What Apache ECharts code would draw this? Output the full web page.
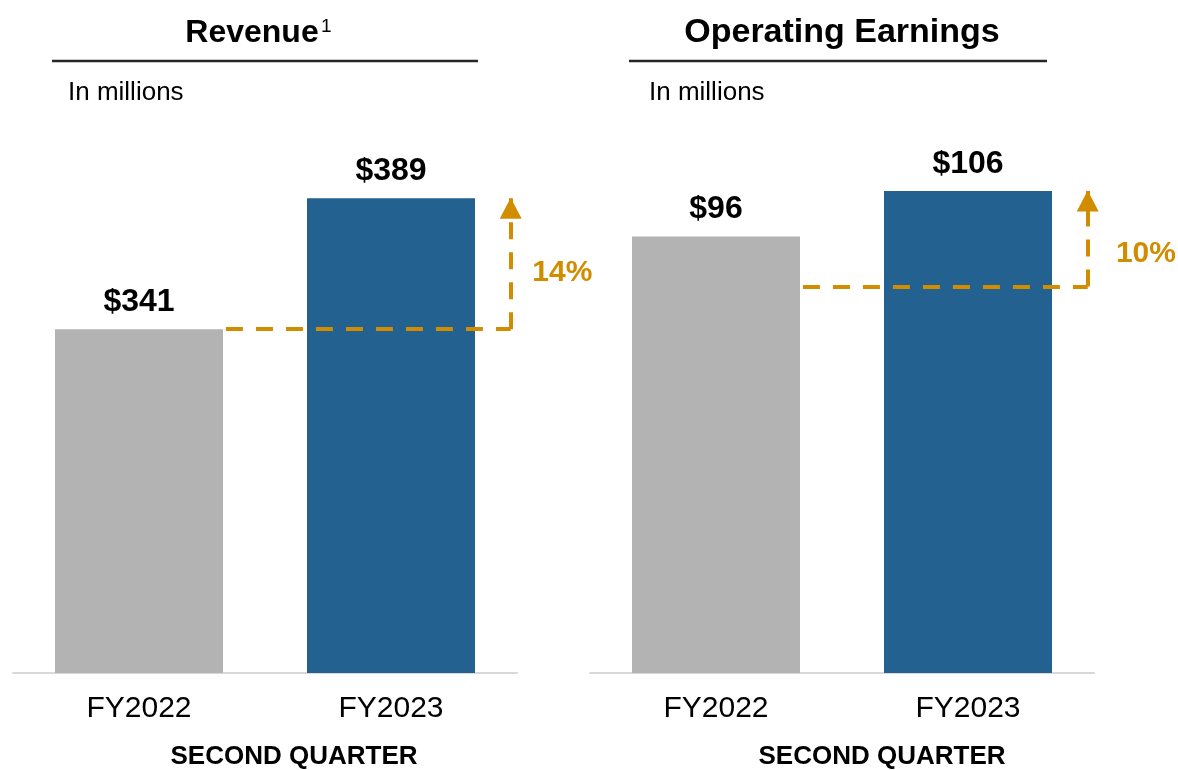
<!DOCTYPE html>
<html><head><meta charset="utf-8">
<script src="https://cdn.jsdelivr.net/npm/echarts@6/dist/echarts.min.js"></script>
<style>html,body{margin:0;padding:0;background:#fff}#c{width:1178px;height:770px}</style>
</head><body><div id="c"></div>
<script>
// ---- data ----
const categories = ['FY2022', 'FY2023'];
const revenue = [341, 389];
const operatingEarnings = [96, 106];
const growthLabels = ['14%', '10%'];
const growthBase = [341, 85];      // level where the dashed growth line starts
const growthTarget = [389, 106];   // level where the arrow ends
const panelTitles = ['Revenue', 'Operating Earnings'];
const unitLabel = 'In millions';
const periodLabel = 'SECOND QUARTER';

// ---- styles ----
const FONT = '"Liberation Sans", Arial, Helvetica, sans-serif';
const barColors = ['#B3B3B3', '#236190'];
const accent = '#D28C00';

const chart = echarts.init(document.getElementById('c'), null, {renderer: 'canvas'});

function barSeries(values, gi) {
  return {
    type: 'bar', xAxisIndex: gi, yAxisIndex: gi, barWidth: 168,
    data: values.map((v, i) => ({value: v, itemStyle: {color: barColors[i]}})),
    label: {show: true, position: 'top', distance: 11, formatter: p => '$' + p.value,
      fontFamily: FONT, fontSize: 32, fontWeight: 'bold', color: '#000'},
    silent: true, animation: false
  };
}
function growthSeries(gi) {
  const x0 = 0.345, x1 = 1.475;
  const b = growthBase[gi], t = growthTarget[gi];
  return {
    type: 'line', xAxisIndex: 2 + gi, yAxisIndex: gi, data: [], silent: true, animation: false,
    markLine: {
      silent: true, animation: false, symbol: ['none', 'none'],
      label: {show: false},
      lineStyle: {color: accent, width: 4, type: [17, 13], opacity: 1},
      emphasis: {disabled: true},
      data: [
        [{coord: [x0, b]}, {coord: [x1, b]}],
        [{coord: [x1, b]}, {coord: [x1, t], symbol: 'triangle', symbolSize: [22, 21], symbolOffset: [0, 10]}]
      ]
    }
  };
}
function growthLabelSeries(gi) {
  const b = growthBase[gi], t = growthTarget[gi];
  return {
    type: 'scatter', xAxisIndex: 2 + gi, yAxisIndex: gi, silent: true, animation: false, clip: false,
    symbol: 'circle', symbolSize: 2, itemStyle: {color: 'rgba(0,0,0,0)', opacity: 1},
    label: {show: true, position: 'inside', formatter: growthLabels[gi], opacity: 1,
      fontFamily: FONT, fontSize: 30, fontWeight: 'bold', color: accent,
      offset: gi === 0 ? [0, 9] : [0, 15]},
    data: [[gi === 0 ? 1.68 : 1.706, (b + t) / 2]]
  };
}

const catAxis = (gi) => ({
  type: 'category', gridIndex: gi, data: categories,
  axisLine: {show: true, lineStyle: {color: '#D9D9D9', width: 2}},
  axisTick: {show: false},
  axisLabel: {fontFamily: FONT, fontSize: 30, color: '#000', margin: 21}
});
const valXAxis = (gi) => ({type: 'value', gridIndex: gi, min: -0.5, max: 1.5, show: false});

function txt(text, x, y, size, bold, align, color) {
  return {type: 'text', x: x, y: y, silent: true,
    style: {text: text, fill: color || '#000', font: (bold ? 'bold ' : '') + size + 'px ' + FONT,
      textAlign: align, textVerticalAlign: 'middle', align: align, verticalAlign: 'middle'}};
}

chart.setOption({
  animation: false,
  backgroundColor: '#fff',
  grid: [
    {left: 13, width: 504, top: 100, height: 573},
    {left: 590, width: 504, top: 100, height: 573}
  ],
  xAxis: [catAxis(0), catAxis(1), valXAxis(0), valXAxis(1)],
  yAxis: [
    {type: 'value', gridIndex: 0, min: 215, max: 425, show: false},
    {type: 'value', gridIndex: 1, min: 0, max: 126, show: false}
  ],
  series: [
    barSeries(revenue, 0), barSeries(operatingEarnings, 1),
    growthSeries(0), growthSeries(1),
    growthLabelSeries(0), growthLabelSeries(1)
  ],
  graphic: [
    txt(panelTitles[0], 252, 33, 32, true, 'center'),
    txt('1', 321, 27, 19, false, 'left'),
    txt(panelTitles[1], 842, 33, 34, true, 'center'),
    {type: 'line', silent: true, shape: {x1: 52, y1: 61, x2: 478, y2: 61}, style: {stroke: '#262626', lineWidth: 2.5}},
    {type: 'line', silent: true, shape: {x1: 629, y1: 61, x2: 1047, y2: 61}, style: {stroke: '#262626', lineWidth: 2.5}},
    txt(unitLabel, 68, 93, 26, false, 'left'),
    txt(unitLabel, 649, 93, 26, false, 'left'),
    txt(periodLabel, 294, 757, 26, true, 'center'),
    txt(periodLabel, 882, 757, 26, true, 'center')
  ]
});
</script>
</body></html>
